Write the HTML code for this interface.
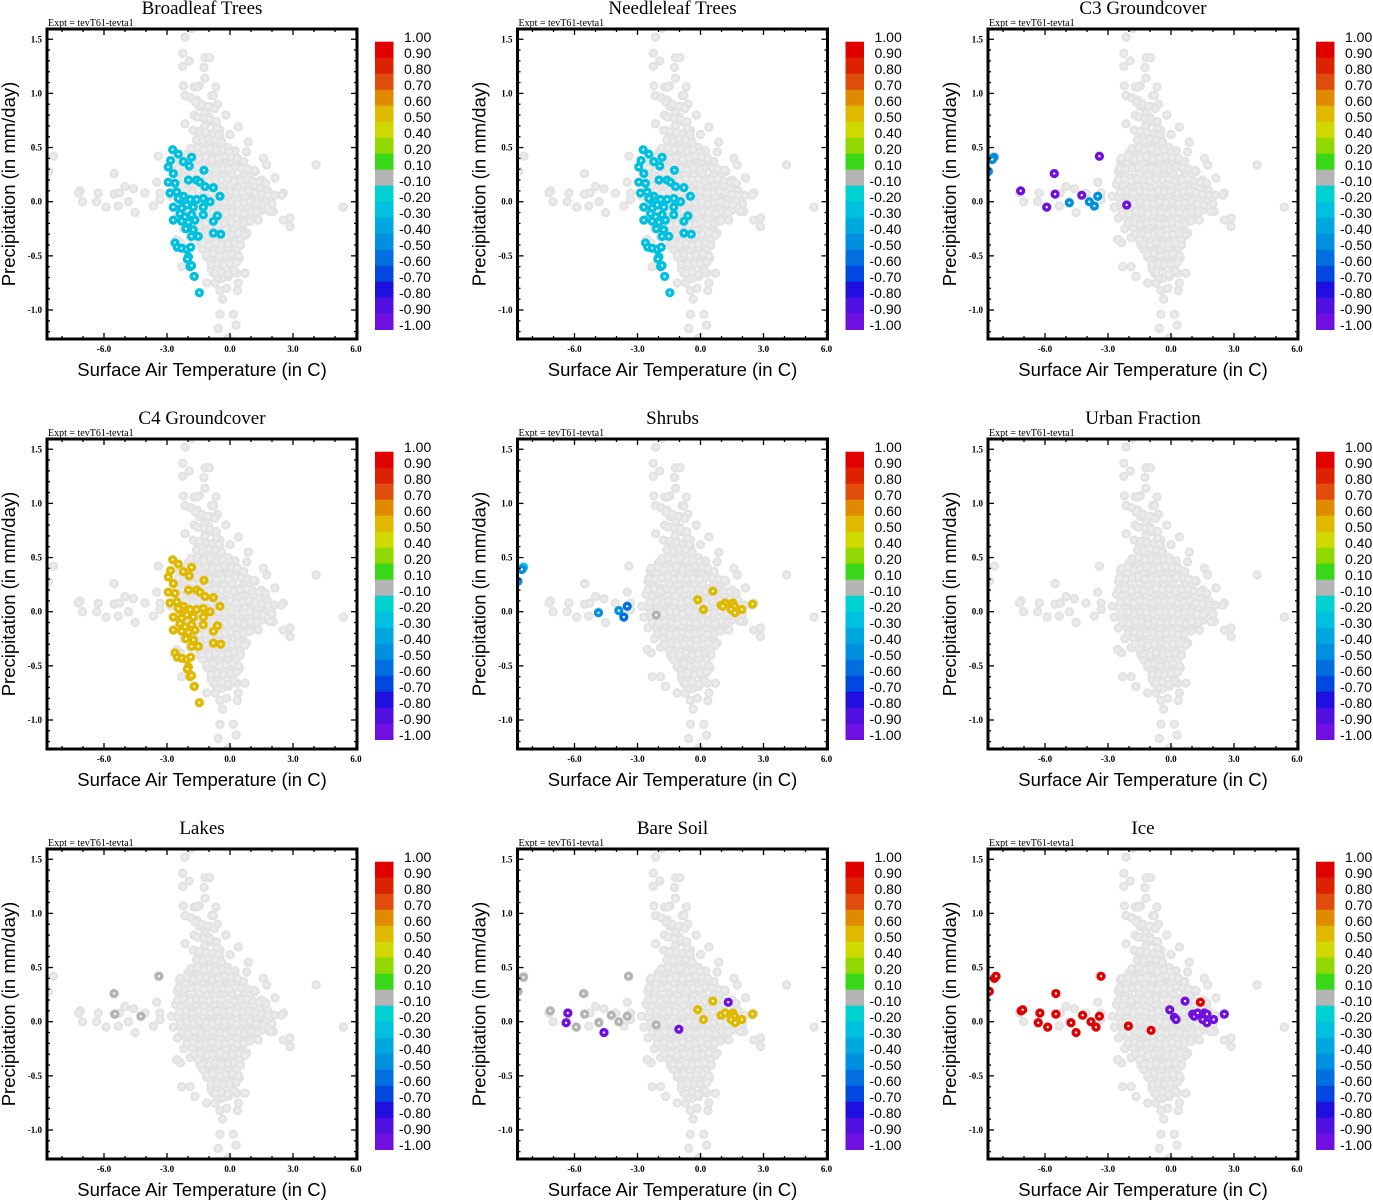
<!DOCTYPE html>
<html><head><meta charset="utf-8">
<style>
html,body{margin:0;padding:0;background:#fff;}
svg{display:block;}
.ttl{font-family:"Liberation Serif",serif;font-size:19px;}
.expt{font-family:"Liberation Serif",serif;font-size:10px;}
.tick{font-family:"Liberation Serif",serif;font-size:9px;font-weight:bold;}
.axl{font-family:"Liberation Sans",sans-serif;font-size:18.5px;}
.cbl{font-family:"Liberation Sans",sans-serif;font-size:14px;}
</style></head>
<body>
<svg id="root" width="1373" height="1200" viewBox="0 0 1373 1200" xmlns="http://www.w3.org/2000/svg"></svg>
<script>
// ---- background (gray) cloud: temperature, precipitation ----
var grayT = [-2.14,-1.83,-2.25,-1.94,-2.25,-1.19,-0.98,-1.24,-1.19,-1.46,-2.22,-1.71,-1.56,-0.67,-2.14,-1.87,-0.87,-0.79,-1.59,-1.46,-0.98,-1.71,-1.19,-2.14,0.40,0.87,-0.48,-0.63,-0.48,-0.95,-3.41,-8.41,-8.65,-5.52,-7.14,-7.21,-6.27,-5.52,-5.27,-5.0,-4.6,-4.05,-7.02,-6.35,-5.9,-5.32,-4.84,-4.52,-3.65,-3.49,-3.33,-3.33,1.59,1.75,4.10,2.14,2.54,2.46,5.40,2.06,1.9,2.54,2.86,2.86,1.35,0.79,0.24,0,0.48,-1.43,-2.30,-1.9,-1.67,-0.79,-1.11,-0.71,-0.40,-0.08,0.40,0.71,0.32,-0.48,-0.16,0.35,-0.35,-0.48,0.16,0.29,-0.56,-0.08,-2.35,-2.54,0,0.44,-1.11,0,0.48,0.79,1.11,1.27,
-1.5,-1.2,-0.9,-1.4,-1.0,-0.7,-1.8,-2.0,-1.6,-1.2,-0.8,-0.4,-0.2,-2.4,-2.1,-1.7,-1.3,-0.9,-0.5,-0.1,0.3,0.6,-2.5,-2.2,-1.9,-1.5,-1.1,-0.7,-0.3,0.1,0.5,0.9,1.2,1.5,-2.6,-2.3,-2.0,-1.6,-1.2,-0.8,-0.4,0.0,0.4,0.8,1.1,1.4,1.8,2.1,-2.8,-2.5,-2.1,-1.7,-1.3,-0.9,-0.5,-0.1,0.3,0.7,1.0,1.3,1.7,2.0,-2.7,-2.3,-1.9,-1.5,-1.1,-0.7,-0.3,0.1,0.5,0.9,1.2,1.5,-2.5,-2.1,-1.7,-1.3,-0.9,-0.5,-0.1,0.3,0.7,1.0,-2.2,-1.8,-1.4,-1.0,-0.6,-0.2,0.2,0.6,-1.9,-1.5,-1.1,-0.7,-0.3,0.1,-1.3,-0.9,-0.5,-0.1,0.3,-1.0,-0.6,-0.2,-0.9,-0.4,0.1,-0.6,
-1.3,-0.5,-1.7,-0.3,0.2,-0.6,-1.0,0.0,-0.2,-0.8,-1.4,-0.4,0.1,-0.7,-1.1,-0.2,0.6,1.3,0.9,-0.1,
-1.65,-1.35,-1.05,-0.75,-1.55,-1.25,-0.95,-0.65,-1.75,-1.45,-1.15,-0.85,-0.55,-1.6,-1.3,-1.0,-0.7,-0.4,-1.85,-1.55,-1.25,-0.95,-0.65,-0.35,-0.05,
-2.35,-2.05,-1.75,-1.45,-1.15,-0.85,-0.55,-0.25,0.05,0.35,0.65,
-2.45,-2.15,-1.85,-1.55,-1.25,-0.95,-0.65,-0.35,-0.05,0.25,0.55,0.85,1.15,
-2.5,-2.2,-1.9,-1.6,-1.3,-1.0,-0.7,-0.4,-0.1,0.2,0.5,0.8,1.1,1.4,1.7,
-2.4,-2.1,-1.8,-1.5,-1.2,-0.9,-0.6,-0.3,0.0,0.3,0.6,0.9,1.2,1.5,1.8,
-2.35,-2.05,-1.75,-1.45,-1.15,-0.85,-0.55,-0.25,0.05,0.35,0.65,0.95,1.25,1.55,
-2.3,-2.0,-1.7,-1.4,-1.1,-0.8,-0.5,-0.2,0.1,0.4,0.7,1.0,1.3,
-2.05,-1.75,-1.45,-1.15,-0.85,-0.55,-0.25,0.05,0.35,0.65,0.95,
-1.7,-1.4,-1.1,-0.8,-0.5,-0.2,0.1,0.4,0.7,
-1.3,-1.0,-0.7,-0.4,-0.1,0.2,0.5,-1.1,-0.8,-0.5,-0.2,0.1,0.4,-0.9,-0.6,-0.3,0.0,0.3,-0.7,-0.4,-0.1,0.2];
var grayP = [1.52,1.60,1.37,1.30,1.25,1.33,1.33,1.24,1.14,1.07,1.07,1.06,1.06,1.06,0.98,0.96,0.98,0.98,0.94,0.88,0.88,0.80,0.82,0.72,0.69,0.55,0.66,0.68,0.60,0.57,0.42,0.42,0.28,0.26,0.10,0.08,0.08,0.07,0.08,0.14,0.12,0.08,0.0,0.0,-0.05,-0.04,0.0,-0.10,-0.04,0.18,0.08,0.02,0.40,0.34,0.34,0.22,0.08,0.06,-0.05,-0.09,-0.09,-0.17,-0.15,-0.23,-0.17,0.46,0.47,0.46,0.33,-0.40,-0.60,-0.60,-0.69,-0.66,-0.75,-0.75,-0.71,-0.69,-0.75,-0.66,-0.66,-0.82,-0.80,-0.82,-0.90,-1.04,-1.04,-1.14,-1.17,-1.26,-0.38,-0.35,-0.54,-0.52,-0.51,-0.29,-0.35,-0.29,-0.11,0.02,
0.62,0.7,0.74,0.55,0.52,0.5,0.48,0.45,0.42,0.44,0.42,0.45,0.40,0.38,0.35,0.33,0.36,0.34,0.35,0.33,0.38,0.30,0.28,0.25,0.22,0.26,0.24,0.26,0.24,0.26,0.22,0.24,0.28,0.2,0.16,0.14,0.12,0.15,0.14,0.16,0.13,0.15,0.12,0.14,0.10,0.12,0.10,0.06,0.05,0.04,0.03,0.06,0.04,0.05,0.03,0.06,0.03,0.05,0.02,0.04,0.0,-0.02,-0.05,-0.06,-0.04,-0.07,-0.05,-0.06,-0.04,-0.07,-0.05,-0.06,-0.04,-0.08,-0.15,-0.14,-0.16,-0.13,-0.15,-0.16,-0.14,-0.15,-0.13,-0.17,-0.25,-0.24,-0.26,-0.23,-0.25,-0.26,-0.24,-0.22,-0.33,-0.35,-0.32,-0.34,-0.36,-0.33,-0.44,-0.42,-0.45,-0.43,-0.44,-0.52,-0.55,-0.53,-0.62,-0.6,-0.62,-0.7,
0.6,0.58,0.2,0.1,-0.1,0.9,0.78,0.62,-0.38,-0.46,-0.08,-0.2,-0.48,0.1,0.4,0.8,0.16,-0.02,-0.1,0.5,
0.92,0.9,0.88,0.86,0.78,0.77,0.76,0.74,0.66,0.65,0.64,0.63,0.62,0.57,0.56,0.58,0.57,0.55,0.49,0.5,0.48,0.49,0.47,0.48,0.46,
0.40,0.41,0.39,0.40,0.41,0.39,0.40,0.42,0.41,0.40,0.37,
0.31,0.30,0.31,0.32,0.30,0.31,0.30,0.31,0.30,0.32,0.31,0.30,0.29,
0.20,0.21,0.19,0.21,0.20,0.19,0.21,0.20,0.21,0.19,0.20,0.21,0.19,0.18,0.17,
0.09,0.10,0.08,0.10,0.09,0.08,0.10,0.09,0.10,0.08,0.09,0.10,0.08,0.07,0.06,
-0.01,0.0,-0.02,0.0,-0.01,-0.02,0.0,-0.01,0.0,-0.02,-0.01,0.0,-0.02,-0.03,
-0.10,-0.11,-0.09,-0.10,-0.11,-0.09,-0.10,-0.11,-0.09,-0.10,-0.11,-0.09,-0.1,
-0.20,-0.19,-0.21,-0.20,-0.19,-0.21,-0.20,-0.19,-0.21,-0.20,-0.18,
-0.30,-0.29,-0.31,-0.30,-0.29,-0.31,-0.30,-0.29,-0.31,
-0.39,-0.40,-0.38,-0.40,-0.39,-0.38,-0.40,-0.49,-0.48,-0.50,-0.49,-0.48,-0.50,-0.58,-0.57,-0.58,-0.57,-0.56,-0.66,-0.65,-0.67,-0.64];

// ---- trees / C4 highlighted cluster ----
var treeT = [-2.73,-2.83,-2.46,-2.22,-1.83,-1.94,-2.94,-2.70,-1.24,-2.94,-2.62,-1.98,-1.59,-1.43,-1.19,-0.79,-0.48,-2.86,-2.54,-2.22,-1.90,-1.59,-1.27,-0.95,-2.70,-2.30,-2.06,-1.75,-1.27,-2.38,-2.14,-1.83,-2.70,-2.30,-1.98,-1.67,-1.27,-0.79,-0.60,-2.10,-1.75,-0.79,-0.44,-1.83,-1.51,-2.62,-2.51,-2.30,-2.06,-1.87,-1.98,-2.03,-1.90,-1.83,-1.71,-1.46,-2.38,-2.46];
var treeP = [0.48,0.38,0.44,0.37,0.41,0.33,0.32,0.26,0.29,0.18,0.17,0.20,0.20,0.18,0.14,0.13,0.05,0.08,0.09,0.05,0.02,0.02,0.03,0.0,-0.05,-0.06,-0.03,-0.05,-0.05,-0.11,-0.14,-0.12,-0.17,-0.18,-0.19,-0.17,-0.12,-0.18,-0.13,-0.25,-0.26,-0.29,-0.30,-0.32,-0.32,-0.38,-0.42,-0.43,-0.44,-0.42,-0.51,-0.53,-0.60,-0.59,-0.69,-0.84,0.02,0.03];
var treeV = -0.3;
var c4V = 0.55;

// ---- C3 groundcover ----
var c3T = [-8.43,-8.51,-8.70,-3.41,-5.56,-7.16,-5.52,-4.25,-5.92,-2.11,-4.84,-3.89,-3.65,-3.49];
var c3P = [0.41,0.39,0.28,0.42,0.26,0.10,0.07,0.06,-0.05,-0.03,-0.01,0.0,-0.04,0.05];
var c3V = [-0.5,-0.5,-0.5,-1.0,-1.0,-1.0,-1.0,-1.0,-1.0,-1.0,-0.5,-0.5,-0.5,-0.5];

// ---- shrubs ----
var shrT = [-8.43,-8.51,-8.70,-4.86,-3.89,-3.49,-3.65,-2.11,0.59,-0.13,0.14,0.98,1.17,1.54,1.62,1.46,1.65,1.97,2.48,1.06];
var shrP = [0.41,0.39,0.28,-0.01,0.01,0.05,-0.05,-0.03,0.19,0.11,0.02,0.06,0.08,0.08,0.05,0.02,-0.01,0.02,0.07,0.05];
var shrV = [-0.2,-0.5,-0.5,-0.5,-0.5,-0.6,-0.6,0.0,0.55,0.55,0.55,0.55,0.55,0.55,0.55,0.55,0.55,0.55,0.55,0.55];

// ---- lakes ----
var lakT = [-3.38,-5.52,-5.48,-4.24];
var lakP = [0.42,0.26,0.07,0.05];
var lakV = [0.0,0.0,0.0,0.0];

// ---- bare soil ----
var soiT = [-8.43,-8.70,-3.43,-5.57,-7.16,-5.52,-4.25,-5.92,-4.84,-3.89,-3.49,-2.11,-6.32,-6.40,-4.60,-1.03,1.32,0.59,-0.13,0.14,0.98,1.17,1.54,1.62,1.46,1.65,1.97,2.48];
var soiP = [0.41,0.28,0.42,0.26,0.10,0.07,0.06,-0.05,-0.01,0.0,0.05,-0.03,0.08,-0.01,-0.10,-0.07,0.18,0.19,0.11,0.02,0.06,0.08,0.08,0.05,0.02,-0.01,0.02,0.07];
var soiV = [0,0,0,0,0,0,0,0,0,0,0,0,-1,-1,-1,-1,-1,0.55,0.55,0.55,0.55,0.55,0.55,0.55,0.55,0.55,0.55,0.55];

// ---- ice ----
var iceT = [-8.65,-8.41,-8.33,-7.14,-7.06,-6.24,-6.32,-5.87,-5.48,-5.48,-4.76,-4.52,-4.21,-3.81,-3.57,-3.41,-3.33,-2.03,-0.95,1.40,-0.06,0.16,0.24,0.67,1.03,1.11,1.27,1.59,1.71,1.51,1.71,2.03,2.54];
var iceP = [0.28,0.40,0.42,0.10,0.11,0.08,-0.01,-0.05,0.26,0.07,-0.01,-0.10,0.06,0.0,-0.05,0.05,0.42,-0.04,-0.08,0.18,0.11,0.04,0.02,0.19,0.07,0.05,0.08,0.08,0.07,0.02,-0.01,0.02,0.07];
var iceV = [1,1,1,1,1,1,1,1,1,1,1,1,1,1,1,1,1,1,1,1,-1,-1,-1,-1,-1,-1,-1,-1,-1,-1,-1,-1,-1];

// ---- colorbar ----
var cbLabels = ["1.00","0.90","0.80","0.70","0.60","0.50","0.40","0.20","0.10","-0.10","-0.20","-0.30","-0.40","-0.50","-0.60","-0.70","-0.80","-0.90","-1.00"];
var cbColors = ["#e00000","#dc2200","#e04c0c","#e08a00","#e0b800","#cfd800","#90d800","#38d818","#b4b4b4","#00d2d2","#00c0e0","#00a8e0","#0090e0","#0070e0","#0048e0","#2010e0","#5010e0","#7010e0"];
var xTicks = [-6,-3,0,3,6];
var yTicks = [1.5,1.0,0.5,0.0,-0.5,-1.0];

var titles = ["Broadleaf Trees","Needleleaf Trees","C3 Groundcover","C4 Groundcover","Shrubs","Urban Fraction","Lakes","Bare Soil","Ice"];

var NS = "http://www.w3.org/2000/svg";
var root = document.getElementById("root");
function mk(tag, attrs, parent){
  var e = document.createElementNS(NS, tag);
  for (var k in attrs) e.setAttribute(k, attrs[k]);
  parent.appendChild(e);
  return e;
}
var X0 = 47, X1 = 357, Y0 = 29, Y1 = 339;
function xs(v){ return 230 + 21 * v; }
function ys(v){ return 201.7 - 108.3 * v; }
function colorFor(v){
  if (v >= -0.1 && v <= 0.1) return cbColors[8];
  var vals = [0.95,0.85,0.75,0.65,0.55,0.45,0.3,0.15,0,-0.15,-0.25,-0.35,-0.45,-0.55,-0.65,-0.75,-0.85,-0.95];
  var best = 0, bd = 1e9;
  for (var i = 0; i < vals.length; i++){ var d = Math.abs(vals[i]-v); if (d < bd){ bd = d; best = i; } }
  return cbColors[best];
}

var defs = mk("defs", {}, root);
var cp = mk("clipPath", {id:"plotclip"}, defs);
mk("rect", {x:X0, y:Y0, width:X1-X0, height:Y1-Y0}, cp);

var highlights = [
  {t:treeT, p:treeP, v:null, c:treeV},
  {t:treeT, p:treeP, v:null, c:treeV},
  {t:c3T, p:c3P, v:c3V},
  {t:treeT, p:treeP, v:null, c:c4V},
  {t:shrT, p:shrP, v:shrV},
  null,
  {t:lakT, p:lakP, v:lakV},
  {t:soiT, p:soiP, v:soiV},
  {t:iceT, p:iceP, v:iceV}
];

for (var pi = 0; pi < 9; pi++){
  var col = pi % 3, row = Math.floor(pi / 3);
  var g = mk("g", {transform:"translate(" + (col*470.5) + "," + (row*410) + ")"}, root);
  
  

  var tt = mk("text", {x:202, y:14, "text-anchor":"middle", "class":"ttl"}, g);
  tt.textContent = titles[pi];
  
  

  var ex = mk("text", {x:48, y:26, "class":"expt"}, g);
  ex.textContent = "Expt = tevT61-tevta1";
  
  

  var pts = mk("g", {"clip-path":"url(#plotclip)"}, g);
  
  
  for (var i = 0; i < grayT.length; i++){
    var c = mk("circle", {cx:xs(grayT[i]), cy:ys(grayP[i]), r:3.6, fill:"#ebebeb", stroke:"#e2e2e2", "stroke-width":2.2}, pts);
    
    
  }
  var h = highlights[pi];
  if (h){
    for (var j = 0; j < h.t.length; j++){
      var val = h.v ? h.v[j] : h.c;
      var hc = mk("circle", {cx:xs(h.t[j]), cy:ys(h.p[j]), r:2.9, fill:"#ffffff", stroke:colorFor(val), "stroke-width":3.4}, pts);
      
      
    }
  }

  // ticks
  var tk = mk("g", {stroke:"#000", "stroke-width":1.3}, g);
  
  
  for (var xv = -8; xv <= 6; xv++){
    var major = (xv % 3 === 0);
    var L = major ? 6 : 3;
    mk("line", {x1:xs(xv), x2:xs(xv), y1:Y1, y2:Y1-L}, tk);
    mk("line", {x1:xs(xv), x2:xs(xv), y1:Y0, y2:Y0+L}, tk);
  }
  for (var yk = -12; yk <= 15; yk++){
    var yv = yk / 10;
    var majorY = (yk % 5 === 0);
    var LY = majorY ? 6 : 3;
    mk("line", {x1:X0, x2:X0+LY, y1:ys(yv), y2:ys(yv)}, tk);
    mk("line", {x1:X1, x2:X1-LY, y1:ys(yv), y2:ys(yv)}, tk);
  }
  var frame = mk("rect", {x:X0, y:Y0, width:X1-X0, height:Y1-Y0, fill:"none", stroke:"#000", "stroke-width":3}, g);
  
  

  for (var a = 0; a < xTicks.length; a++){
    var xl = mk("text", {x:xs(xTicks[a]), y:352, "text-anchor":"middle", "class":"tick"}, g);
    xl.textContent = xTicks[a].toFixed(1);
    
    
  }
  for (var b = 0; b < yTicks.length; b++){
    var yl = mk("text", {x:42, y:ys(yTicks[b]) + 3, "text-anchor":"end", "class":"tick"}, g);
    yl.textContent = yTicks[b].toFixed(1);
    
    
  }
  var xt = mk("text", {x:202, y:376, "text-anchor":"middle", "class":"axl"}, g);
  xt.textContent = "Surface Air Temperature (in C)";
  
  
  var yt = mk("text", {x:0, y:0, "text-anchor":"middle", "class":"axl", transform:"translate(15,184) rotate(-90)"}, g);
  yt.textContent = "Precipitation (in mm/day)";
  
  

  // colorbar
  var cb = mk("g", {}, g);
  
  
  for (var s = 0; s < cbColors.length; s++){
    var seg = mk("rect", {x:375, y:41.7 + 16*s, width:18.5, height:16.3, fill:cbColors[s]}, cb);
    
    
  }
  for (var l = 0; l < cbLabels.length; l++){
    var lab = cbLabels[l];
    var cl = mk("text", {x: lab.charAt(0) === "-" ? 399 : 404, y:41.7 + 16*l + 0.5, "class":"cbl"}, cb);
    cl.textContent = lab;
    
    
  }
}
</script>
</body></html>
